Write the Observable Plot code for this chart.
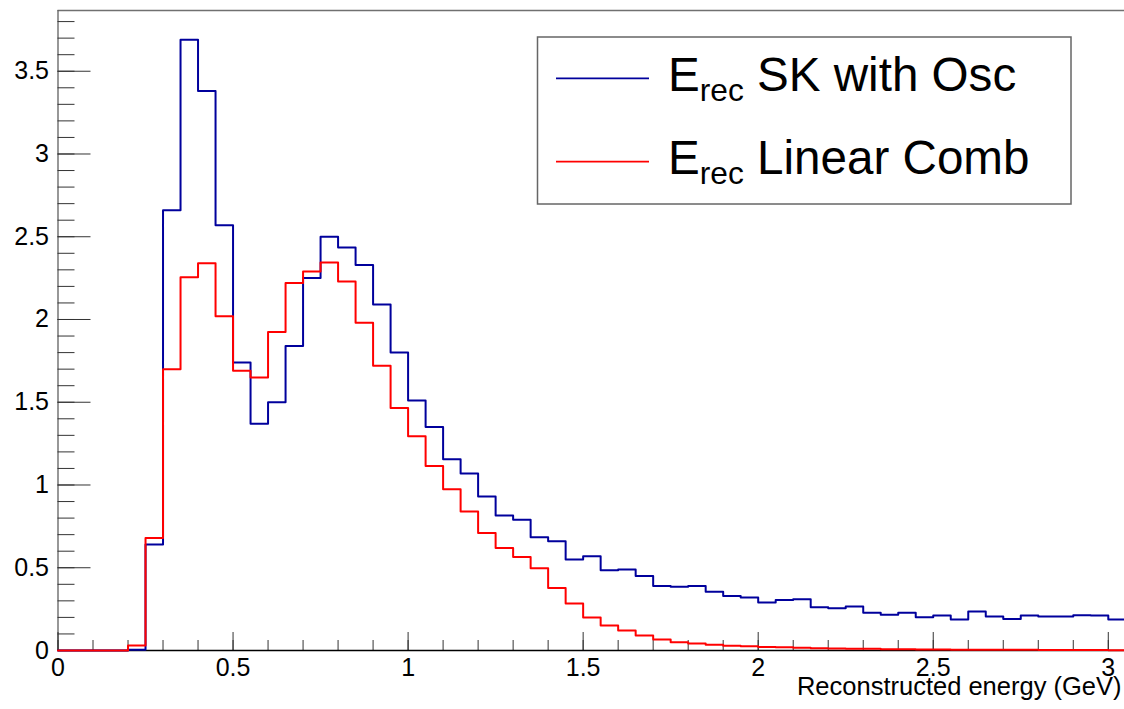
<!DOCTYPE html>
<html>
<head>
<meta charset="utf-8">
<script src="https://cdn.jsdelivr.net/npm/d3@7"></script>
<script src="https://cdn.jsdelivr.net/npm/@observablehq/plot@0.6"></script>
<style>
  html, body { margin: 0; padding: 0; background: #fff; overflow: hidden; }
  #chart svg { display: block; }
</style>
</head>
<body>
<div id="chart"></div>
<script>
// Bin edges (GeV), 0.05 GeV bins
const binEdges = [0.00,0.05,0.10,0.15,0.20,0.25,0.30,0.35,0.40,0.45,0.50,0.55,0.60,0.65,0.70,0.75,0.80,0.85,0.90,0.95,
  1.00,1.05,1.10,1.15,1.20,1.25,1.30,1.35,1.40,1.45,1.50,1.55,1.60,1.65,1.70,1.75,1.80,1.85,1.90,1.95,
  2.00,2.05,2.10,2.15,2.20,2.25,2.30,2.35,2.40,2.45,2.50,2.55,2.60,2.65,2.70,2.75,2.80,2.85,2.90,2.95,
  3.00,3.05,3.10];

// E_rec SK with Osc (blue)
const skWithOsc = [0,0,0,0,0.005,0.64,2.66,3.69,3.38,2.57,
  1.74,1.37,1.50,1.84,2.25,2.50,2.435,2.33,2.09,1.80,
  1.51,1.35,1.155,1.07,0.93,0.815,0.79,0.685,0.66,0.55,
  0.57,0.485,0.49,0.45,0.39,0.385,0.39,0.355,0.33,0.32,
  0.29,0.305,0.31,0.262,0.256,0.266,0.228,0.216,0.228,0.201,
  0.211,0.187,0.236,0.205,0.191,0.211,0.205,0.205,0.213,0.211,
  0.187,0.187];

// E_rec Linear Comb (red)
const linearComb = [0,0,0,0,0.03,0.68,1.70,2.255,2.34,2.02,
  1.69,1.65,1.925,2.22,2.29,2.345,2.23,1.98,1.72,1.465,
  1.295,1.115,0.975,0.84,0.71,0.62,0.565,0.497,0.377,0.284,
  0.20,0.151,0.121,0.091,0.066,0.05,0.042,0.035,0.029,0.026,
  0.021,0.019,0.017,0.014,0.012,0.011,0.010,0.008,0.007,0.006,
  0.006,0.005,0.005,0.004,0.004,0.004,0.003,0.003,0.003,0.003,
  0.002,0.002];

const seriesNames = ["SK with Osc", "Linear Comb"];
const seriesColors = ["#00009c", "#ff0000"];

const yMajor = [0,0.5,1,1.5,2,2.5,3,3.5];
const yMinor = [0,0.1,0.2,0.3,0.4,0.5,0.6,0.7,0.8,0.9,1,1.1,1.2,1.3,1.4,1.5,1.6,1.7,1.8,1.9,
  2,2.1,2.2,2.3,2.4,2.5,2.6,2.7,2.8,2.9,3,3.1,3.2,3.3,3.4,3.5,3.6,3.7,3.8];
const xMajor = [0,0.5,1,1.5,2,2.5,3];
const xMinor = [0,0.1,0.2,0.3,0.4,0.5,0.6,0.7,0.8,0.9,1,1.1,1.2,1.3,1.4,1.5,1.6,1.7,1.8,1.9,
  2,2.1,2.2,2.3,2.4,2.5,2.6,2.7,2.8,2.9,3];

const xDomain = [0, 3.0463];
const yDomain = [0, 3.867];
const xTitle = "Reconstructed energy (GeV)";

function steps(values) {
  return binEdges.map((e, i) => ({x: e, y: values[Math.min(i, values.length - 1)]}));
}
const blueData = steps(skWithOsc);
const redData = steps(linearComb);

const font = "'Liberation Sans', Arial, Helvetica, sans-serif";

const chart = Plot.plot({
  width: 1124,
  height: 709,
  marginLeft: 57.5,
  marginRight: 0,
  marginTop: 10,
  marginBottom: 59,
  x: {domain: xDomain},
  y: {domain: yDomain},
  style: {fontFamily: font, fontSize: "25px", color: "#000", background: "#fff", overflow: "hidden"},
  marks: [
    Plot.ruleY([yDomain[1]], {stroke: "#707070", strokeWidth: 1.3}),
    Plot.ruleX([0], {stroke: "#606060", strokeWidth: 1.3}),
    Plot.axisY({ticks: yMinor, tickSize: -17, tickFormat: () => "", label: null, stroke: "#333"}),
    Plot.axisY({ticks: yMajor, tickSize: -33, tickFormat: () => "", label: null, stroke: "#333"}),
    Plot.axisY({ticks: yMajor, tickSize: 0, tickPadding: 9, tickFormat: d => String(d), label: null, fontSize: 25}),
    Plot.axisX({ticks: xMinor, tickSize: -10, tickFormat: () => "", label: null, stroke: "#333"}),
    Plot.axisX({ticks: xMajor, tickSize: -18, tickFormat: () => "", label: null, stroke: "#333"}),
    Plot.axisX({ticks: xMajor, tickSize: 0, tickPadding: 8, tickFormat: d => String(d), label: null, fontSize: 25}),
    Plot.ruleY([0], {stroke: "#000", strokeWidth: 1.5}),
    Plot.text([xTitle], {frameAnchor: "bottom-right", dx: -3, dy: 44, textAnchor: "end", fontSize: 25.5, fill: "#000"}),
    Plot.line(blueData, {x: "x", y: "y", curve: "step-after", stroke: seriesColors[0], strokeWidth: 2}),
    Plot.line(redData, {x: "x", y: "y", curve: "step-after", stroke: seriesColors[1], strokeWidth: 2})
  ]
});

document.getElementById("chart").appendChild(chart);

// Legend (inside the frame, ROOT TLegend style)
const svg = d3.select(chart);
const lg = svg.append("g").attr("font-family", font).attr("text-anchor", "start");
lg.append("rect")
  .attr("x", 537.5).attr("y", 37).attr("width", 533.5).attr("height", 167)
  .attr("fill", "#fff").attr("stroke", "#666").attr("stroke-width", 1.5);
const rows = [{name: seriesNames[0], color: seriesColors[0], ly: 78.3, base: 91},
              {name: seriesNames[1], color: seriesColors[1], ly: 161.7, base: 174.3}];
rows.forEach(r => {
  lg.append("line").attr("x1", 556).attr("x2", 649).attr("y1", r.ly).attr("y2", r.ly)
    .attr("stroke", r.color).attr("stroke-width", 1.8);
  const t = lg.append("text").attr("x", 668).attr("y", r.base).attr("fill", "#000")
    .attr("font-size", 47.6).attr("text-anchor", "start");
  t.append("tspan").text("E");
  t.append("tspan").attr("font-size", 31.7).attr("dy", 9.7).text("rec");
  t.append("tspan").attr("dy", -9.7).text(" " + r.name);
});
</script>
</body>
</html>
